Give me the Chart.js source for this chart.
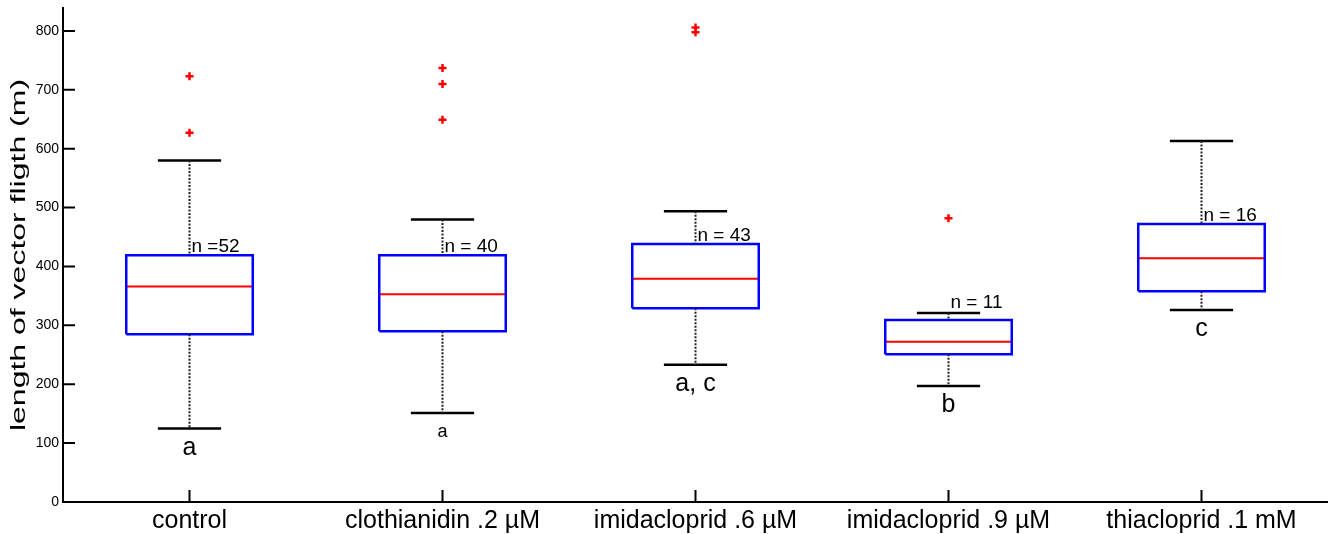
<!DOCTYPE html>
<html>
<head>
<meta charset="utf-8">
<script src="https://cdn.jsdelivr.net/npm/chart.js@4.4.1/dist/chart.umd.min.js"></script>
<style>
  html, body { margin: 0; padding: 0; background: #fff; overflow: hidden; }
  #wrap { width: 1328px; height: 534px; }
</style>
</head>
<body>
<div id="wrap"><canvas id="boxChart"></canvas></div>
<script>
// groups and box statistics
const groups = ['control', 'clothianidin .2 µM', 'imidacloprid .6 µM', 'imidacloprid .9 µM', 'thiacloprid .1 mM'];
const whiskerLow = [125, 151, 233, 197, 326];
const q1 = [285, 290, 329, 251, 358];
const median = [366, 353, 379, 272, 414];
const q3 = [419, 419, 438, 309, 472];
const whiskerHigh = [580, 480, 494, 321, 613];
const outliers = [[723, 627], [737, 710, 649], [806, 798], [482], []];
const nLabels = ['n =52', 'n = 40', 'n = 43', 'n = 11', 'n = 16'];
const letters = ['a', 'a', 'a, c', 'b', 'c'];
const yTicks = [0, 100, 200, 300, 400, 500, 600, 700, 800];
const yTitle = 'length of vector fligth (m)';

const FONT = 'Arial, "Liberation Sans", sans-serif';
const gap = { x: NaN, y: null };

// build polyline segments (separated by gaps) for each part of the boxes
const boxPts = [], medPts = [], capPts = [], whiskPts = [], outPts = [];
groups.forEach((g, i) => {
    boxPts.push({ x: i - 0.25, y: q1[i] }, { x: i + 0.25, y: q1[i] }, { x: i + 0.25, y: q3[i] },
        { x: i - 0.25, y: q3[i] }, { x: i - 0.25, y: q1[i] }, gap);
    medPts.push({ x: i - 0.25, y: median[i] }, { x: i + 0.25, y: median[i] }, gap);
    capPts.push({ x: i - 0.125, y: whiskerHigh[i] }, { x: i + 0.125, y: whiskerHigh[i] }, gap);
    capPts.push({ x: i - 0.125, y: whiskerLow[i] }, { x: i + 0.125, y: whiskerLow[i] }, gap);
    whiskPts.push({ x: i, y: whiskerHigh[i] }, { x: i, y: q3[i] }, gap);
    whiskPts.push({ x: i, y: q1[i] }, { x: i, y: whiskerLow[i] }, gap);
    outliers[i].forEach(v => outPts.push({ x: i, y: v }));
});

// inward tick marks, axis title + text annotations
const extras = {
    id: 'extras',
    afterDraw(chart) {
        const { ctx, scales: { x, y } } = chart;
        ctx.save();
        ctx.strokeStyle = '#000';
        ctx.lineWidth = 2;
        ctx.beginPath();
        yTicks.forEach(v => {
            const py = y.getPixelForValue(v);
            ctx.moveTo(x.left, py); ctx.lineTo(x.left + 12, py);
        });
        groups.forEach((g, i) => {
            const px = x.getPixelForValue(i);
            ctx.moveTo(px, y.bottom); ctx.lineTo(px, y.bottom - 12);
        });
        ctx.stroke();

        ctx.fillStyle = '#000';
        // y title, stretched along its length like the original
        ctx.save();
        ctx.translate(19, 255);
        ctx.rotate(-Math.PI / 2);
        ctx.scale(1.6, 1);
        ctx.font = '20px ' + FONT;
        ctx.textAlign = 'center';
        ctx.textBaseline = 'middle';
        ctx.fillText(yTitle, 0, 0);
        ctx.restore();

        groups.forEach((g, i) => {
            const px = x.getPixelForValue(i);
            const q3px = y.getPixelForValue(q3[i]);
            const capPx = y.getPixelForValue(whiskerHigh[i]);
            ctx.font = '19px ' + FONT;
            ctx.textAlign = 'left';
            ctx.textBaseline = 'alphabetic';
            const base = (capPx > q3px - 16) ? capPx - 5 : q3px - 3;
            ctx.fillText(nLabels[i], px + 2, base);

            ctx.font = (i === 1 ? '18px ' : '25px ') + FONT;
            ctx.textAlign = 'center';
            ctx.textBaseline = 'top';
            ctx.fillText(letters[i], px, y.getPixelForValue(whiskerLow[i]) + (i === 1 ? 10 : 7));
        });
        ctx.restore();
    }
};

const boxChart = new Chart(document.getElementById('boxChart').getContext('2d'), {
    type: 'scatter',
    data: {
        datasets: [
            { data: whiskPts, showLine: true, spanGaps: false, borderColor: '#222', borderWidth: 2, borderDash: [2, 1.5], pointRadius: 0 },
            { data: capPts, showLine: true, spanGaps: false, borderColor: '#000', borderWidth: 2.5, pointRadius: 0 },
            { data: boxPts, showLine: true, spanGaps: false, borderColor: '#0000ff', borderWidth: 2.5, pointRadius: 0 },
            { data: medPts, showLine: true, spanGaps: false, borderColor: '#ff0000', borderWidth: 2, pointRadius: 0 },
            { data: outPts, showLine: false, pointStyle: 'cross', pointRadius: 4, borderColor: '#ff0000', borderWidth: 2.5 }
        ]
    },
    options: {
        responsive: true,
        maintainAspectRatio: false,
        animation: false,
        layout: { autoPadding: false, padding: { top: 8, right: 0, bottom: 0, left: 0 } },
        plugins: { legend: { display: false }, tooltip: { enabled: false } },
        scales: {
            x: {
                type: 'linear',
                min: -0.5,
                max: 4.5,
                afterBuildTicks: s => { s.ticks = groups.map((g, i) => ({ value: i })); },
                afterFit: s => { s.height = 32; },
                grid: { display: false, drawTicks: false },
                border: { display: true, color: '#000', width: 2 },
                ticks: {
                    color: '#000',
                    padding: 4,
                    font: { family: FONT, size: 25 },
                    maxRotation: 0,
                    autoSkip: false,
                    callback: v => groups[v]
                }
            },
            y: {
                min: 0,
                max: 839,
                afterBuildTicks: s => { s.ticks = yTicks.map(v => ({ value: v })); },
                afterFit: s => { s.width = 63; s.paddingTop = 0; s.paddingBottom = 0; },
                grid: { display: false, drawTicks: false },
                border: { display: true, color: '#000', width: 2 },
                ticks: { color: '#000', padding: 4, font: { family: FONT, size: 14 } }
            }
        }
    },
    plugins: [extras]
});
</script>
</body>
</html>
